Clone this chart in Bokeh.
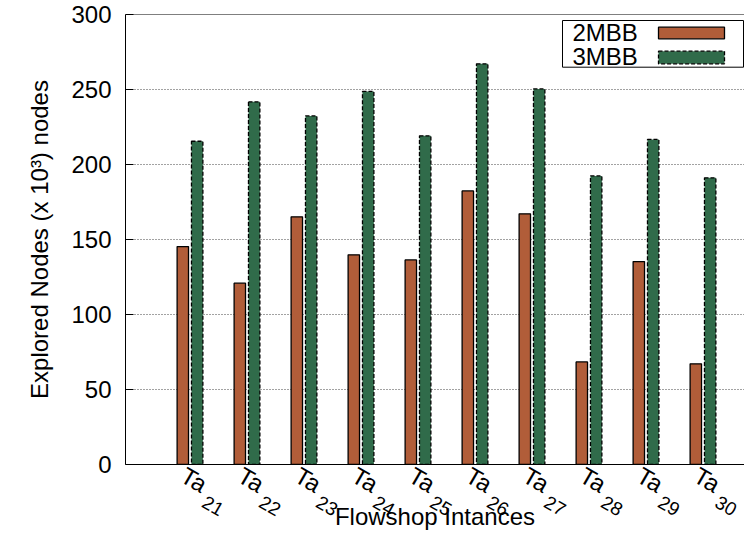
import math
from bokeh.plotting import figure
from bokeh.models import Range1d, FixedTicker, Label, Span, ColumnDataSource, LinearAxis
from bokeh.transform import dodge
from bokeh.embed import file_html
from bokeh.resources import INLINE

# ---- data ----
tick_prefix = "Ta"
tick_subs = ["21", "22", "23", "24", "25", "26", "27", "28", "29", "30"]
series_names = ["2MBB", "3MBB"]
mbb2 = [145.3, 120.9, 165.1, 139.8, 136.4, 182.4, 167.1, 68.4, 135.3, 67.1]
mbb3 = [215.5, 241.8, 232.4, 248.7, 219.1, 267.1, 250.4, 192.4, 216.7, 191.1]
y_ticks = [0, 50, 100, 150, 200, 250, 300]
x_title = "Flowshop Intances"
y_title = "Explored Nodes (x 10\u00b3) nodes"

# ---- geometry (canvas pixels) ----
W, H = 744, 534
FL, FR, FT, FB = 125, 744, 14, 464
XPX = 57.0
X0 = 189.5
YPX = (FB - FT) / 300.0
FONT = "Liberation Sans"
FS = 24
FSS = 19
ORANGE = "#b15d39"
GREEN = "#306b4a"
TH = math.radians(30)


def dx(px):
    return (px - X0) / XPX


def dyt(off):
    # offset in px below the top of the frame -> data value
    return 300 - off / YPX


p = figure(width=W, height=H,
           x_range=Range1d(dx(FL), dx(FR)), y_range=Range1d(0, 300),
           output_backend="svg", toolbar_location=None,
           min_border_left=FL, min_border_right=W - FR,
           min_border_top=FT, min_border_bottom=H - FB)
p.outline_line_color = None
p.background_fill_color = "white"

# y axis
p.yaxis.ticker = FixedTicker(ticks=y_ticks)
p.yaxis.major_tick_in = 8
p.yaxis.major_tick_out = 0
p.yaxis.minor_tick_line_color = None
p.yaxis.major_label_standoff = 14
p.yaxis.major_label_text_font = FONT
p.yaxis.major_label_text_font_size = f"{FS}px"
p.yaxis.major_label_text_color = "black"
p.yaxis.axis_line_color = "black"
p.yaxis.major_tick_line_color = "black"
p.yaxis.axis_label = y_title
p.yaxis.axis_label_text_font = FONT
p.yaxis.axis_label_text_font_size = f"{FS}px"
p.yaxis.axis_label_text_font_style = "normal"
p.yaxis.axis_label_text_color = "black"
p.yaxis.axis_label_standoff = 15

# x axis: "Ta" part of the rotated category labels
idx = list(range(len(tick_subs)))
shift_a = -7.0 / XPX
shift_b = 13.8 / XPX
xa = p.xaxis[0]
xa.ticker = FixedTicker(ticks=[i + shift_a for i in idx])
xa.major_label_overrides = {i + shift_a: tick_prefix for i in idx}
xa.major_label_orientation = -TH
xa.major_label_standoff = 9
xa.major_label_text_font = FONT
xa.major_label_text_font_size = f"{FS}px"
xa.major_label_text_color = "black"
xa.minor_tick_line_color = None
xa.major_tick_line_color = None
xa.major_tick_out = 0
xa.major_tick_in = 0
xa.axis_line_color = "black"

# second axis: subscripts of the category labels + axis title
xb = LinearAxis(ticker=FixedTicker(ticks=[i + shift_b for i in idx]))
xb.major_label_overrides = {i + shift_b: s for i, s in zip(idx, tick_subs)}
xb.major_label_orientation = -TH
xb.major_label_standoff = -12
xb.major_label_text_font = FONT
xb.major_label_text_font_size = f"{FSS}px"
xb.major_label_text_color = "black"
xb.minor_tick_line_color = None
xb.major_tick_line_color = None
xb.major_tick_out = 0
xb.major_tick_in = 0
xb.axis_line_color = None
xb.axis_label = x_title
xb.axis_label_text_font = FONT
xb.axis_label_text_font_size = f"{FS}px"
xb.axis_label_text_font_style = "normal"
xb.axis_label_text_color = "black"
xb.axis_label_standoff = -22
p.add_layout(xb, "below")

p.xgrid.visible = False
p.ygrid.grid_line_dash = "1 2"
p.ygrid.grid_line_color = "#444444"
p.ygrid.grid_line_width = 1

p.add_layout(Span(location=300, dimension="width", line_color="black", line_width=1))

# bars
src = ColumnDataSource(dict(x=idx, a=mbb2, b=mbb3))
p.vbar(x=dodge("x", -0.126, range=p.x_range), top="a", width=0.2, bottom=0,
       source=src, fill_color=ORANGE, line_color="black", line_width=1.3)
p.vbar(x=dodge("x", 0.126, range=p.x_range), top="b", width=0.2, bottom=0,
       source=src, fill_color=GREEN, line_color="black", line_width=1.3,
       line_dash="4 2")

# legend (manual, gnuplot style: text then sample)
p.quad(left=[dx(562)], right=[dx(743)], top=[dyt(6)], bottom=[dyt(52.7)],
       fill_color="white", line_color="black", line_width=1)
p.quad(left=[dx(658)], right=[dx(724)], top=[dyt(12.7)], bottom=[dyt(24.3)],
       fill_color=ORANGE, line_color="black", line_width=1.3)
p.quad(left=[dx(658)], right=[dx(724)], top=[dyt(36.7)], bottom=[dyt(49.3)],
       fill_color=GREEN, line_color="black", line_width=1.3, line_dash="4 2")
for name, mid in zip(series_names, [17.7, 41.7]):
    p.add_layout(Label(x=dx(572), y=dyt(mid), text=name, text_font=FONT,
                       text_font_size=f"{FS}px", text_align="left",
                       text_baseline="middle", text_color="black"))

open("out.html", "w").write(file_html(p, INLINE))
